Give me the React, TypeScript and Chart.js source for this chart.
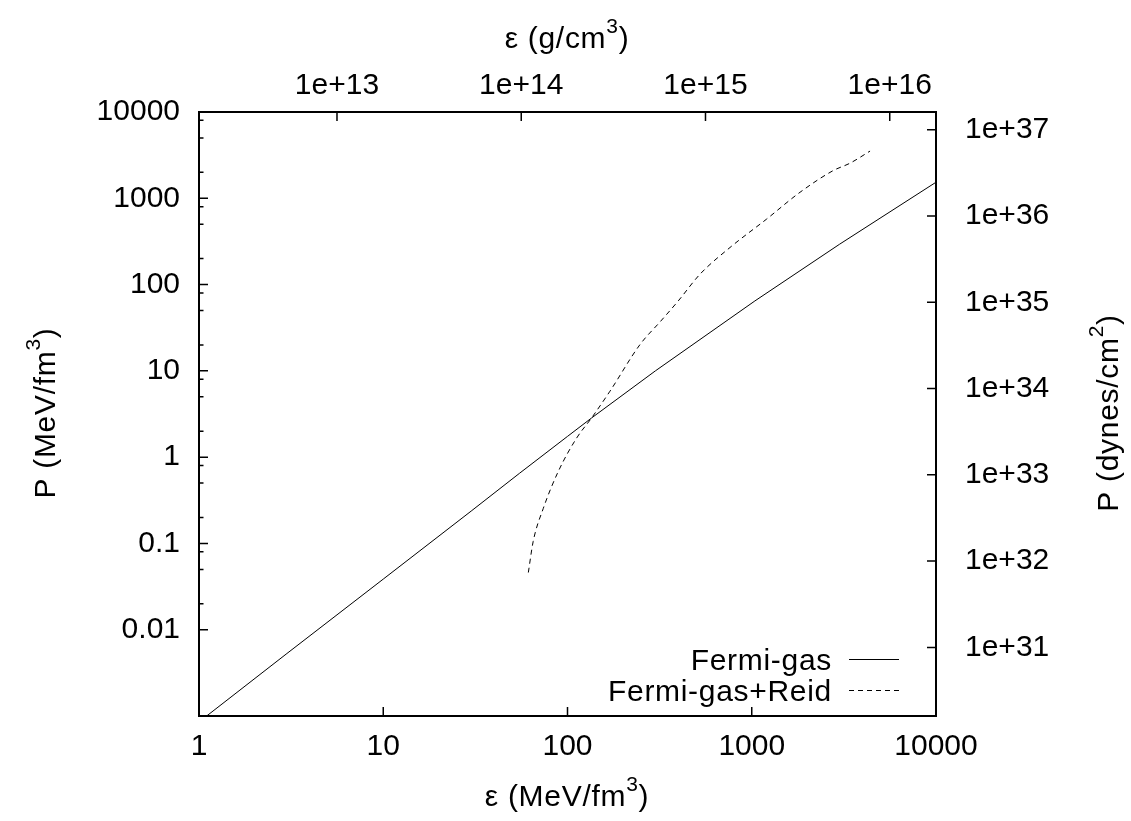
import React, { useEffect, useRef } from 'react';
import { Chart, registerables } from 'chart.js';

Chart.register(...registerables);

// ---------------- data ----------------
// Fermi-gas equation of state: energy density (MeV/fm^3) vs pressure (MeV/fm^3)
const fermiEps = [1.1, 3, 10, 30, 55, 100, 135, 300, 1040, 3000, 10000];
const fermiP = [0.001, 0.0053, 0.0386, 0.237, 0.652, 1.74, 2.84, 10.0, 64.6, 294, 1535];

// Fermi-gas + Reid potential
const reidEps = [61.3, 65.1, 73.9, 89.1, 112, 135, 170, 248, 321, 399, 524, 762, 1205, 1828, 2773, 3413, 4386];
const reidP = [0.046, 0.105, 0.255, 0.682, 1.66, 2.84, 5.81, 20.3, 37.8, 64.6, 132, 269, 575, 1174, 2099, 2550, 3524];

const seriesLabels = ['Fermi-gas', 'Fermi-gas+Reid'];

// axis ranges & ticks
const xRange = [1, 10000];
const yRange = [0.001, 10000];
const xTickValues = [1, 10, 100, 1000, 10000];
const xTickLabels = ['1', '10', '100', '1000', '10000'];
const yTickValues = [0.01, 0.1, 1, 10, 100, 1000, 10000];
const yTickLabels = ['0.01', '0.1', '1', '10', '100', '1000', '10000'];
const yMinorDecades = [0.01, 0.1, 1, 10, 100, 1000];
const yMinorMultipliers = [2, 5, 8];
const x2TickValues = [1e13, 1e14, 1e15, 1e16];
const x2TickLabels = ['1e+13', '1e+14', '1e+15', '1e+16'];
const y2TickValues = [1e31, 1e32, 1e33, 1e34, 1e35, 1e36, 1e37];
const y2TickLabels = ['1e+31', '1e+32', '1e+33', '1e+34', '1e+35', '1e+36', '1e+37'];

// unit conversions: 1 MeV/fm^3 in g/cm^3 and in dyn/cm^2
const G_CM3_PER_MEV_FM3 = 1.7827e12;
const DYN_CM2_PER_MEV_FM3 = 1.6022e33;

// ---------------- styling ----------------
const FONT_FAMILY = '"Liberation Sans", Arial, Helvetica, sans-serif';
const BASE_SIZE = 30;
const SUP_SIZE = 21;
const SUP_RAISE = 15;
const TEXT_SPACING = '0.7px';

type Seg = { t: string; sup?: boolean };

const titles: { segs: Seg[]; x: number; y: number; rot: number }[] = [
  { segs: [{ t: 'ε (MeV/fm' }, { t: '3', sup: true }, { t: ')' }], x: 567, y: 806, rot: 0 },
  { segs: [{ t: 'ε (g/cm' }, { t: '3', sup: true }, { t: ')' }], x: 567, y: 48, rot: 0 },
  { segs: [{ t: 'P (MeV/fm' }, { t: '3', sup: true }, { t: ')' }], x: 55, y: 413, rot: -Math.PI / 2 },
  { segs: [{ t: 'P (dynes/cm' }, { t: '2', sup: true }, { t: ')' }], x: 1118, y: 413, rot: -Math.PI / 2 },
];

function font(size: number) {
  return `${size}px ${FONT_FAMILY}`;
}

function drawRich(ctx: CanvasRenderingContext2D, segs: Seg[], cx: number, baseY: number, rot: number) {
  ctx.save();
  ctx.translate(cx, baseY);
  ctx.rotate(rot);
  ctx.fillStyle = '#000';
  ctx.textBaseline = 'alphabetic';
  ctx.textAlign = 'left';
  (ctx as any).letterSpacing = TEXT_SPACING;
  const widths = segs.map((s) => {
    ctx.font = font(s.sup ? SUP_SIZE : BASE_SIZE);
    return ctx.measureText(s.t).width;
  });
  const total = widths.reduce((a, b) => a + b, 0);
  let x = -total / 2;
  segs.forEach((s, i) => {
    ctx.font = font(s.sup ? SUP_SIZE : BASE_SIZE);
    ctx.fillText(s.t, x, s.sup ? -SUP_RAISE : 0);
    x += widths[i];
  });
  ctx.restore();
}

function setTicks(values: number[]) {
  return (scale: any) => {
    scale.ticks = values.map((v) => ({ value: v }));
  };
}

function labeler(values: number[], labels: string[]) {
  return (value: number | string) => {
    const v = Number(value);
    const i = values.findIndex((t) => Math.abs(t - v) / t < 1e-6);
    return i >= 0 ? labels[i] : '';
  };
}

const decorPlugin = {
  id: 'gnuplotDecor',
  afterDraw(chart: any) {
    const ctx: CanvasRenderingContext2D = chart.ctx;
    const { left, right, top, bottom } = chart.chartArea;
    const sx = chart.scales.x;
    const sy = chart.scales.y;
    const sx2 = chart.scales.x2;
    const sy2 = chart.scales.y2;
    const MAJ = 9;
    const MIN = 4.5;
    ctx.save();
    ctx.strokeStyle = '#000';
    ctx.lineWidth = 1.5;
    ctx.beginPath();
    // bottom ticks (inward)
    xTickValues.forEach((v) => {
      const px = sx.getPixelForValue(v);
      ctx.moveTo(px, bottom);
      ctx.lineTo(px, bottom - MAJ);
    });
    // left ticks major + minor
    yTickValues.forEach((v) => {
      const py = sy.getPixelForValue(v);
      ctx.moveTo(left, py);
      ctx.lineTo(left + MAJ, py);
    });
    yMinorDecades.forEach((d) => {
      yMinorMultipliers.forEach((m) => {
        const py = sy.getPixelForValue(d * m);
        ctx.moveTo(left, py);
        ctx.lineTo(left + MIN, py);
      });
    });
    // top ticks
    x2TickValues.forEach((v) => {
      const px = sx2.getPixelForValue(v);
      ctx.moveTo(px, top);
      ctx.lineTo(px, top + MAJ);
    });
    // right ticks
    y2TickValues.forEach((v) => {
      const py = sy2.getPixelForValue(v);
      ctx.moveTo(right, py);
      ctx.lineTo(right - MAJ, py);
    });
    ctx.stroke();

    // frame
    ctx.lineWidth = 2;
    ctx.strokeRect(left, top, right - left, bottom - top);

    // legend (gnuplot style, bottom right)
    const legendRows = [
      { label: seriesLabels[0], dash: [] as number[], y: 659 },
      { label: seriesLabels[1], dash: [5, 4], y: 690 },
    ];
    ctx.font = font(BASE_SIZE);
    (ctx as any).letterSpacing = TEXT_SPACING;
    ctx.fillStyle = '#000';
    ctx.textAlign = 'right';
    ctx.textBaseline = 'alphabetic';
    legendRows.forEach((r) => {
      ctx.fillText(r.label, 832, r.y + 10.5);
      ctx.beginPath();
      ctx.setLineDash(r.dash);
      ctx.lineWidth = 1;
      ctx.moveTo(849, r.y + 0.5);
      ctx.lineTo(899, r.y + 0.5);
      ctx.stroke();
    });
    ctx.setLineDash([]);
    (ctx as any).letterSpacing = '0px';

    // axis titles
    titles.forEach((t) => drawRich(ctx, t.segs, t.x, t.y, t.rot));
    ctx.restore();
  },
};

const tickFont = { family: FONT_FAMILY, size: BASE_SIZE };

export default function App() {
  const canvasRef = useRef<HTMLCanvasElement | null>(null);

  useEffect(() => {
    const canvas = canvasRef.current;
    if (!canvas) return;
    const chart = new Chart(canvas, {
      type: 'line',
      data: {
        datasets: [
          {
            label: seriesLabels[0],
            data: fermiEps.map((e, i) => ({ x: e, y: fermiP[i] })),
            borderColor: '#000',
            borderWidth: 1,
            pointRadius: 0,
            tension: 0,
            fill: false,
            xAxisID: 'x',
            yAxisID: 'y',
          },
          {
            label: seriesLabels[1],
            data: reidEps.map((e, i) => ({ x: e, y: reidP[i] })),
            borderColor: '#000',
            borderWidth: 1,
            borderDash: [5, 4],
            pointRadius: 0,
            cubicInterpolationMode: 'monotone',
            fill: false,
            xAxisID: 'x',
            yAxisID: 'y',
          },
        ],
      },
      options: {
        responsive: false,
        animation: false,
        devicePixelRatio: 1,
        layout: { padding: 0 },
        plugins: {
          legend: { display: false },
          tooltip: { enabled: false },
        },
        scales: {
          x: {
            type: 'logarithmic',
            position: 'bottom',
            min: xRange[0],
            max: xRange[1],
            afterBuildTicks: setTicks(xTickValues),
            afterFit: (s: any) => { s.height = 105; },
            grid: { display: false, drawTicks: false },
            border: { display: false },
            ticks: {
              autoSkip: false, maxRotation: 0, minRotation: 0, padding: 13,
              color: '#000', font: tickFont,
              callback: labeler(xTickValues, xTickLabels),
            },
          },
          x2: {
            type: 'logarithmic',
            position: 'top',
            min: xRange[0] * G_CM3_PER_MEV_FM3,
            max: xRange[1] * G_CM3_PER_MEV_FM3,
            afterBuildTicks: setTicks(x2TickValues),
            afterFit: (s: any) => { s.height = 112; },
            grid: { display: false, drawTicks: false },
            border: { display: false },
            ticks: {
              autoSkip: false, maxRotation: 0, minRotation: 0, padding: 8,
              color: '#000', font: tickFont,
              callback: labeler(x2TickValues, x2TickLabels),
            },
          },
          y: {
            type: 'logarithmic',
            position: 'left',
            min: yRange[0],
            max: yRange[1],
            afterBuildTicks: setTicks(yTickValues),
            afterFit: (s: any) => { s.width = 199; },
            grid: { display: false, drawTicks: false },
            border: { display: false },
            ticks: {
              autoSkip: false, padding: 19,
              color: '#000', font: tickFont,
              callback: labeler(yTickValues, yTickLabels),
            },
          },
          y2: {
            type: 'logarithmic',
            position: 'right',
            min: yRange[0] * DYN_CM2_PER_MEV_FM3,
            max: yRange[1] * DYN_CM2_PER_MEV_FM3,
            afterBuildTicks: setTicks(y2TickValues),
            afterFit: (s: any) => { s.width = 195; },
            grid: { display: false, drawTicks: false },
            border: { display: false },
            ticks: {
              autoSkip: false, padding: 29,
              color: '#000', font: tickFont,
              callback: labeler(y2TickValues, y2TickLabels),
            },
          },
        },
      },
      plugins: [decorPlugin],
    } as any);
    return () => chart.destroy();
  }, []);

  return (
    <div style={{ position: 'absolute', left: 0, top: 0, width: 1131, height: 821, background: '#fff' }}>
      <canvas ref={canvasRef} width={1131} height={821} style={{ display: 'block', width: 1131, height: 821 }} />
    </div>
  );
}
